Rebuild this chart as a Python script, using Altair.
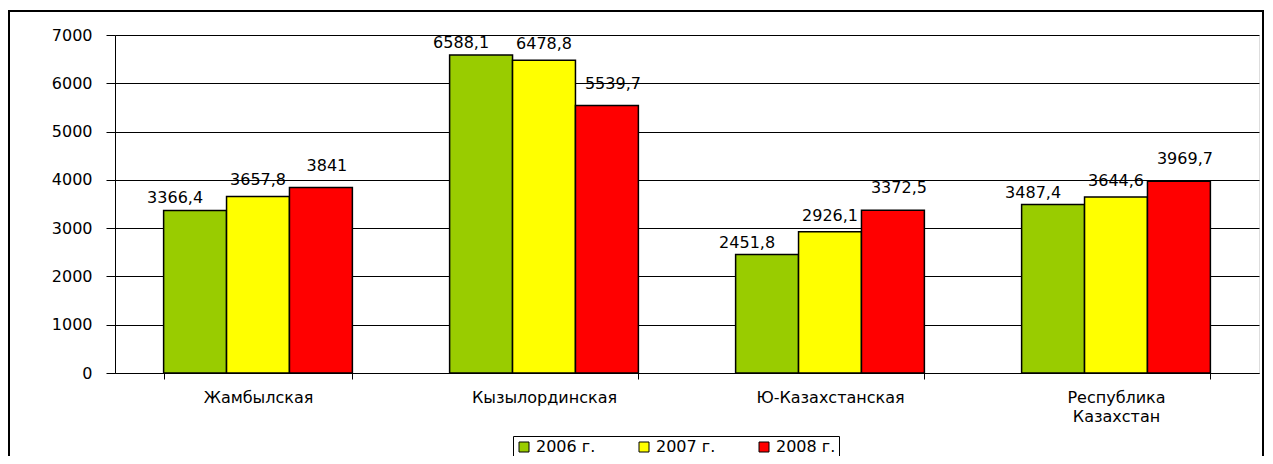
import altair as alt
import pandas as pd

categories = ["Жамбылская", "Кызылординская", "Ю-Казахстанская", "Республика|Казахстан"]
years = ["2006 г.", "2007 г.", "2008 г."]
v2006 = [3366.4, 6588.1, 2451.8, 3487.4]
v2007 = [3657.8, 6478.8, 2926.1, 3644.6]
v2008 = [3841.0, 5539.7, 3372.5, 3969.7]
colors = ["#99CC00", "#FFFF00", "#FF0000"]

rows = []
for yr, vals in zip(years, [v2006, v2007, v2008]):
    for c, v in zip(categories, vals):
        rows.append({"cat": c, "year": yr, "value": v})
df = pd.DataFrame(rows)

FONT = "DejaVu Sans"

x = alt.X("cat:N", sort=categories, title=None,
          scale=alt.Scale(paddingInner=0.34, paddingOuter=0.17),
          axis=alt.Axis(labelAngle=0, labelExpr="split(datum.label, '|')",
                        tickBand="extent", tickSize=6, tickColor="black",
                        domainColor="black", labelColor="black",
                        labelFontSize=16, labelFont=FONT, labelPadding=10,
                        labelLineHeight=19, grid=False))
y = alt.Y("value:Q", title=None,
          scale=alt.Scale(domain=[0, 7000]),
          axis=alt.Axis(values=[0, 1000, 2000, 3000, 4000, 5000, 6000, 7000],
                        format="d",
                        tickSize=9, tickColor="black", domainColor="black",
                        labelColor="black", labelFontSize=16, labelFont=FONT,
                        labelPadding=14, gridColor="black", gridWidth=1))

base = alt.Chart(df)

bars = base.mark_bar(stroke="black", strokeWidth=1.5).encode(
    x=x, y=y,
    xOffset=alt.XOffset("year:N", sort=years),
    color=alt.Color("year:N", sort=years,
                    scale=alt.Scale(domain=years, range=colors),
                    legend=alt.Legend(title=None, orient="none", legendX=398, legendY=401,
                                      direction="horizontal", symbolType="square",
                                      symbolSize=100, symbolStrokeColor="black",
                                      symbolStrokeWidth=1, strokeColor="black",
                                      padding=3, labelFontSize=16, labelFont=FONT,
                                      labelColor="black", columnPadding=40,
                                      labelBaseline="middle")),
)

label_expr = "replace(format(datum.value, '.1~f'), '.', ',')"
offsets = {"2006 г.": (-20, -12), "2007 г.": (0, -16), "2008 г.": (6, -22)}
text_layers = []
for yr in years:
    dx, dy = offsets[yr]
    t = base.transform_filter(alt.datum.year == yr).transform_calculate(
        lbl=label_expr
    ).mark_text(font=FONT, fontSize=16, color="black", dx=dx, dy=dy,
                baseline="middle").encode(
        x=alt.X("cat:N", sort=categories),
        xOffset=alt.XOffset("year:N", sort=years, scale=alt.Scale(domain=years)),
        y=alt.Y("value:Q"),
        text="lbl:N",
    )
    text_layers.append(t)

border = alt.Chart(pd.DataFrame({"a": [0]})).mark_rect(
    fill=None, stroke="black", strokeWidth=2
).encode(x=alt.value(-106), x2=alt.value(1148), y=alt.value(-24), y2=alt.value(445))

chart = alt.layer(bars, *text_layers, border).properties(
    width=1144, height=338,
    autosize=alt.AutoSizeParams(type="none"),
    padding={"left": 107, "top": 27, "right": 6, "bottom": 83},
).configure_view(stroke="#808080").configure(background="white")

chart.save("out.html", embed_options={"renderer": "svg", "actions": False})
